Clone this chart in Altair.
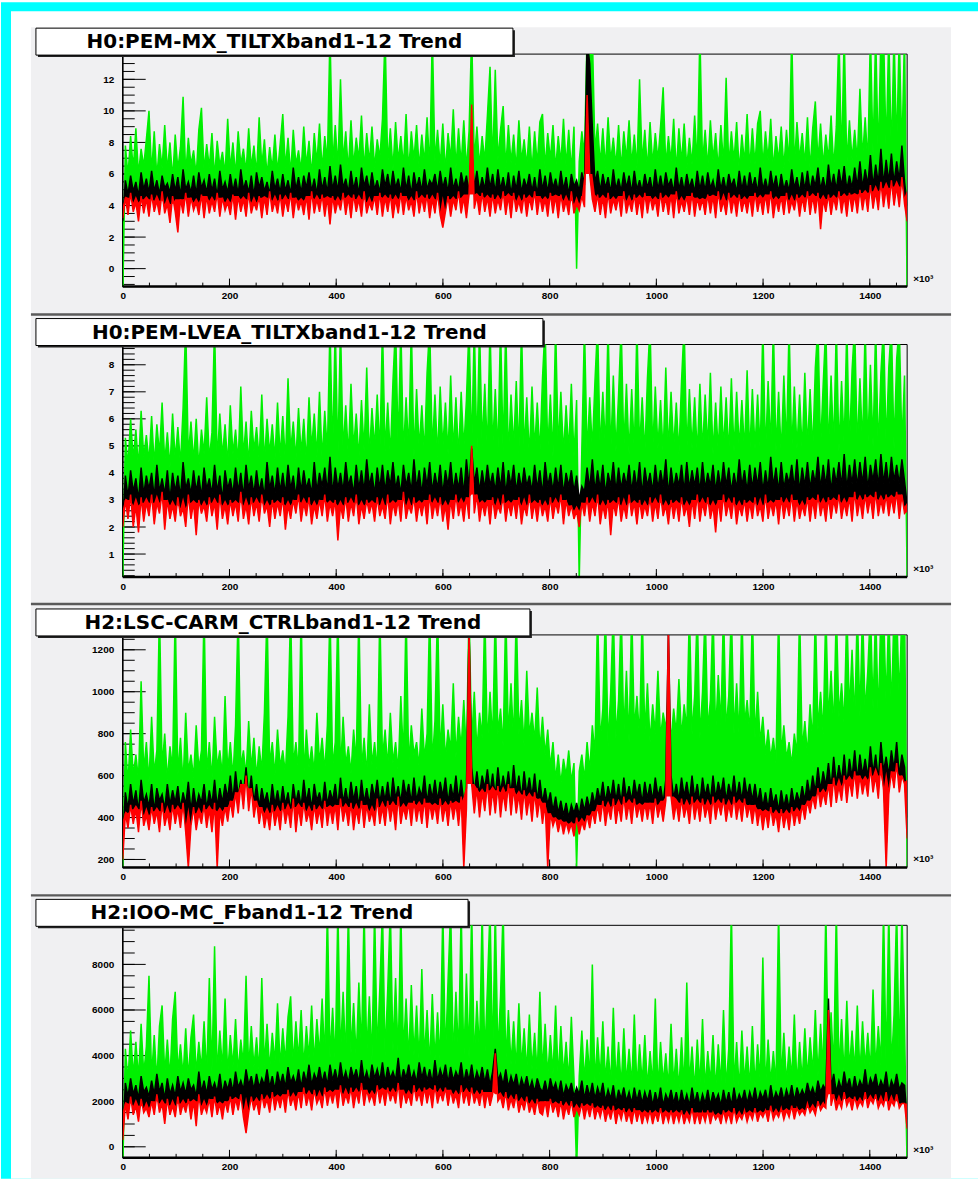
import altair as alt
import pandas as pd
import numpy as np

# ---------------- data ----------------
TITLES = [
    "H0:PEM-MX_TILTXband1-12 Trend",
    "H0:PEM-LVEA_TILTXband1-12 Trend",
    "H2:LSC-CARM_CTRLband1-12 Trend",
    "H2:IOO-MC_Fband1-12 Trend",
]
X_LABELS = [0, 200, 400, 600, 800, 1000, 1200, 1400]
X_MAX = 1470
X_UNIT = "×10³"

Y_DOMAINS = [[-1.14, 13.6], [0.15, 8.75], [162, 1271], [-484, 9714]]
Y_LABELS = [
    [0, 2, 4, 6, 8, 10, 12],
    [1, 2, 3, 4, 5, 6, 7, 8],
    [200, 400, 600, 800, 1000, 1200],
    [0, 2000, 4000, 6000, 8000],
]
Y_MINOR_STEP = [0.5, 0.2, 50, 500]

P1_GREEN = [
    -2, 7.8, 5.9, 8.4, 6.3, 8.9, 6.0, 7.6, 6.5, 8.2, 10.0, 6.1, 8.7, 5.8, 7.9, 6.4, 9.1, 6.2, 8.0, 5.7,
    8.5, 6.3, 7.7, 10.9, 6.0, 8.3, 6.6, 7.5, 5.9, 8.8, 10.2, 6.2, 7.9, 6.4, 8.6, 5.8, 8.1, 6.5, 7.4, 6.0,
    9.5, 6.3, 8.0, 5.9, 8.7, 6.6, 7.6, 6.1, 8.9, 6.4, 7.8, 6.0, 9.6, 6.5, 8.2, 5.9, 7.7, 6.3, 8.5, 6.1,
    7.9, 9.8, 6.4, 8.3, 6.0, 8.8, 6.6, 7.5, 6.2, 9.0, 6.5, 8.1, 5.9, 8.6, 6.7, 9.2, 6.3, 8.4, 6.8, 15,
    6.6, 9.1, 6.4, 12.0, 6.8, 8.7, 6.2, 9.4, 6.5, 8.3, 6.9, 9.7, 6.3, 8.6, 6.7, 9.0, 6.4, 8.2, 7.0, 9.5,
    15, 6.6, 8.9, 6.3, 9.3, 6.8, 8.4, 6.5, 9.8, 6.2, 8.7, 6.9, 9.1, 6.4, 8.5, 6.7, 9.6, 6.3, 15, 6.8,
    8.8, 6.5, 9.2, 6.2, 8.6, 6.9, 10.1, 6.4, 8.9, 6.6, 9.4, 6.3, 8.7, 15, 6.9, 9.0, 6.5, 8.4, 6.8, 9.7,
    12.8, 6.6, 12.6, 6.9, 8.8, 10.3, 6.4, 9.1, 6.7, 8.5, 6.3, 9.4, 6.8, 8.2, 6.5, 9.0, 6.2, 8.7, 6.6, 9.3,
    9.8, 6.4, 8.6, 6.9, 9.1, 6.3, 8.4, 6.7, 9.5, 6.5, 8.8, 6.2, 9.0, 0.0, 6.8, 8.7, 7.2, 15, 15, 15,
    7.4, 9.2, 6.6, 8.9, 6.4, 9.6, 6.8, 8.3, 6.5, 9.1, 6.3, 8.7, 6.9, 9.4, 6.6, 8.5, 6.4, 12.0, 6.7, 8.8,
    6.3, 9.3, 6.6, 8.6, 6.9, 9.0, 11.5, 6.5, 8.4, 6.8, 9.5, 6.2, 8.9, 6.7, 9.2, 6.4, 8.3, 6.6, 9.7, 6.5,
    15, 6.7, 8.8, 6.4, 9.4, 6.9, 8.6, 6.3, 9.1, 6.6, 12.1, 6.5, 8.7, 6.8, 9.3, 6.2, 8.5, 6.7, 9.8, 6.4,
    8.9, 6.6, 9.2, 10.0, 6.5, 8.7, 6.9, 9.5, 6.3, 8.4, 6.8, 9.0, 6.4, 8.8, 6.7, 15, 6.5, 9.3, 6.9, 8.6,
    6.6, 9.6, 6.3, 8.9, 10.6, 6.8, 9.2, 6.5, 8.5, 6.9, 9.7, 6.4, 9.0, 15, 6.7, 15, 6.6, 9.4, 6.9, 8.8,
    6.8, 11.4, 7.0, 9.6, 6.7, 15, 7.2, 15, 6.9, 15, 15, 7.4, 15, 7.1, 15, 7.6, 15, 7.3, 15, -2]
P1_BLACK = [
    3.0, 5.6, 4.7, 5.9, 4.9, 5.5, 4.6, 6.1, 5.0, 5.7, 4.8, 6.2, 4.9, 5.6, 4.7, 5.9, 5.1, 5.4, 4.8, 6.0,
    4.9, 5.8, 4.6, 6.3, 5.0, 5.5, 4.8, 5.9, 4.7, 6.1, 5.1, 5.6, 4.8, 6.0, 4.9, 5.7, 4.6, 6.2, 5.0, 5.5,
    4.8, 6.0, 4.9, 5.7, 4.7, 6.3, 5.0, 5.6, 4.8, 5.9, 4.6, 6.1, 5.1, 5.8, 4.9, 5.5, 4.7, 6.2, 5.0, 5.7,
    4.8, 6.0, 4.9, 5.6, 4.7, 6.4, 5.0, 5.8, 4.8, 5.9, 5.1, 6.1, 4.9, 5.7, 4.7, 6.3, 5.0, 5.8, 4.8, 6.5,
    5.0, 5.9, 4.9, 6.6, 5.1, 5.7, 4.8, 6.2, 5.0, 5.8, 4.7, 6.4, 5.2, 5.9, 4.9, 6.1, 5.0, 5.6, 4.8, 6.3,
    5.2, 6.0, 4.9, 6.2, 5.1, 5.7, 4.8, 6.4, 5.0, 5.9, 4.7, 6.1, 5.1, 5.8, 4.9, 6.3, 5.0, 5.6, 5.3, 6.0,
    4.9, 6.2, 5.1, 5.8, 4.8, 6.4, 5.0, 5.7, 4.9, 6.1, 5.2, 5.9, 4.8, 7.6, 5.1, 6.2, 4.9, 5.8, 5.0, 6.4,
    5.1, 6.0, 4.8, 6.3, 5.0, 5.8, 4.9, 6.1, 4.7, 5.9, 5.0, 6.2, 4.8, 5.7, 5.1, 6.0, 4.9, 5.8, 4.7, 6.3,
    5.0, 5.9, 4.8, 6.1, 5.1, 5.7, 4.9, 6.2, 5.0, 5.8, 4.7, 6.0, 5.2, 5.6, 4.9, 6.1, 5.3, 14.5, 13.0, 9.0,
    5.4, 6.2, 4.9, 6.0, 5.1, 5.8, 4.8, 6.3, 5.0, 5.7, 4.9, 6.1, 5.1, 5.9, 4.8, 6.2, 5.0, 5.6, 4.9, 6.0,
    5.1, 5.8, 4.8, 6.3, 5.0, 5.9, 4.9, 6.1, 5.2, 5.7, 4.8, 6.4, 5.0, 5.8, 4.9, 6.0, 5.1, 5.7, 4.8, 6.2,
    5.0, 5.9, 4.9, 6.1, 5.1, 5.6, 4.8, 6.3, 5.0, 5.8, 4.9, 6.0, 5.2, 5.7, 4.8, 6.2, 5.0, 5.9, 4.9, 6.1,
    5.1, 5.8, 4.8, 6.4, 5.0, 5.7, 4.9, 6.2, 5.1, 5.9, 4.8, 6.0, 5.0, 5.6, 4.9, 6.3, 5.1, 5.8, 4.8, 6.1,
    5.0, 6.2, 4.9, 5.9, 5.2, 6.4, 5.0, 5.8, 4.9, 6.6, 5.1, 6.0, 5.0, 6.3, 5.2, 6.5, 5.0, 5.9, 5.1, 6.4,
    5.2, 6.8, 5.1, 6.3, 5.3, 7.2, 5.2, 6.6, 5.4, 7.6, 5.3, 6.9, 5.5, 7.3, 5.4, 6.8, 5.6, 7.8, 5.5, 4.0]
P1_RED = [
    3.2, 4.5, 3.4, 4.8, 3.6, 4.2, 3.0, 4.6, 3.5, 4.4, 3.3, 4.7, 3.6, 4.3, 3.4, 4.9, 3.5, 4.1, 2.9, 4.6,
    3.6, 2.3, 4.4, 3.5, 4.8, 3.3, 4.5, 3.7, 4.2, 3.4, 4.7, 3.2, 4.6, 3.5, 4.3, 3.6, 4.8, 3.3, 4.5, 3.7,
    4.2, 3.4, 4.7, 3.1, 4.6, 3.6, 4.4, 3.3, 4.8, 3.5, 4.2, 3.7, 4.6, 3.2, 4.5, 3.4, 4.9, 3.6, 4.3, 3.5,
    4.7, 3.3, 4.4, 3.6, 4.8, 3.2, 4.5, 3.7, 4.3, 3.4, 4.6, 3.1, 4.9, 3.5, 4.4, 3.6, 4.7, 3.3, 4.5, 2.8,
    4.6, 3.5, 4.3, 3.7, 4.8, 3.4, 4.5, 3.2, 4.7, 3.6, 4.4, 3.3, 4.9, 3.5, 4.2, 3.7, 4.6, 3.4, 4.8, 3.3,
    4.5, 3.6, 4.7, 3.2, 4.4, 3.5, 4.8, 3.4, 4.6, 3.7, 4.3, 3.3, 4.9, 3.5, 4.5, 3.6, 4.7, 3.2, 4.4, 3.5,
    4.8, 3.4, 2.6, 3.6, 4.6, 3.3, 4.4, 3.7, 4.9, 3.5, 4.5, 3.2, 4.7, 10.4, 3.8, 4.6, 3.4, 4.8, 3.6, 4.5,
    3.3, 4.7, 3.5, 4.4, 3.7, 4.9, 3.4, 4.6, 3.2, 4.8, 3.6, 4.3, 3.5, 4.7, 3.3, 4.5, 3.7, 4.9, 3.4, 4.6,
    3.6, 4.4, 3.3, 4.8, 3.5, 4.6, 3.2, 4.7, 3.6, 4.3, 3.4, 4.9, 3.5, 4.1, 3.7, 4.6, 3.9, 11.0, 6.0, 4.4,
    3.6, 4.7, 3.4, 4.5, 3.2, 4.8, 3.5, 4.4, 3.7, 4.6, 3.3, 4.9, 3.5, 4.3, 3.6, 4.7, 3.4, 4.5, 3.2, 4.8,
    3.5, 4.6, 3.7, 4.4, 3.3, 4.8, 3.6, 4.5, 3.4, 4.7, 3.2, 4.9, 3.5, 4.3, 3.6, 4.6, 3.4, 4.8, 3.3, 4.5,
    3.7, 4.4, 3.4, 4.7, 3.5, 4.6, 3.2, 4.9, 3.6, 4.3, 3.4, 4.8, 3.5, 4.5, 3.3, 4.7, 3.6, 4.4, 3.5, 4.6,
    3.3, 4.8, 3.6, 4.5, 3.4, 4.7, 3.5, 4.9, 3.2, 4.4, 3.6, 4.6, 3.4, 4.8, 3.5, 4.3, 3.7, 4.7, 3.3, 4.5,
    3.6, 4.9, 3.4, 4.6, 3.5, 4.8, 2.5, 4.4, 3.6, 4.7, 3.4, 4.5, 3.7, 4.9, 3.5, 4.6, 3.3, 4.8, 3.6, 4.7,
    3.5, 5.0, 3.7, 4.8, 3.6, 5.3, 3.8, 4.9, 3.7, 5.5, 3.9, 5.1, 3.8, 5.6, 4.0, 5.2, 3.9, 5.8, 4.1, 3.0]

P2_GREEN = [
    0.0, 5.3, 4.3, 6.0, 4.5, 5.6, 4.2, 6.3, 4.6, 5.4, 4.4, 6.1, 4.3, 5.8, 4.7, 6.6, 4.4, 5.5, 4.2, 6.2,
    4.5, 5.7, 4.3, 6.4, 9.5, 4.6, 5.9, 4.4, 6.0, 4.2, 5.6, 4.7, 6.8, 4.5, 5.5, 9.5, 4.4, 6.2, 4.6, 5.8,
    4.3, 6.5, 4.7, 5.6, 4.4, 7.2, 4.6, 5.9, 4.3, 6.3, 4.8, 5.7, 4.5, 6.9, 4.4, 6.0, 4.7, 5.8, 4.5, 6.6,
    4.6, 6.1, 4.4, 7.5, 4.8, 5.9, 4.5, 6.4, 4.7, 6.0, 4.4, 6.8, 4.9, 6.2, 4.6, 7.0, 4.5, 6.3, 4.8, 9.5,
    4.7, 9.5, 4.5, 9.5, 4.8, 6.5, 4.6, 7.3, 4.9, 6.2, 4.5, 6.7, 4.8, 7.9, 4.6, 6.4, 4.9, 6.9, 4.7, 9.5,
    4.8, 6.6, 4.6, 7.4, 9.5, 4.9, 9.5, 4.7, 6.8, 4.8, 9.5, 4.6, 7.1, 4.9, 6.5, 4.7, 7.7, 9.5, 4.8, 6.9,
    4.6, 7.2, 4.9, 6.6, 4.7, 7.6, 4.8, 6.8, 4.6, 7.0, 4.9, 6.7, 9.5, 4.8, 9.5, 4.7, 9.5, 5.0, 7.3, 4.8,
    9.5, 4.9, 7.1, 4.7, 9.5, 4.8, 9.5, 4.6, 6.9, 4.9, 7.4, 4.7, 9.5, 4.8, 6.8, 4.6, 7.2, 4.9, 6.6, 4.7,
    7.5, 9.5, 4.8, 6.9, 4.6, 9.5, 4.9, 7.0, 4.7, 6.5, 4.8, 7.3, 4.6, 6.7, 0.0, 4.9, 9.5, 4.7, 6.8, 4.9,
    7.4, 9.5, 4.8, 7.0, 4.9, 9.5, 4.7, 7.6, 4.8, 6.9, 9.5, 4.9, 7.3, 4.7, 7.1, 4.8, 9.5, 4.9, 6.8, 4.7,
    7.5, 9.5, 4.8, 7.2, 4.9, 6.7, 4.7, 7.9, 4.8, 7.0, 4.9, 6.6, 4.7, 7.4, 9.5, 4.8, 7.1, 4.9, 6.8, 4.7,
    7.3, 4.8, 6.9, 4.9, 7.7, 4.7, 6.6, 4.8, 7.2, 4.9, 6.8, 4.7, 7.5, 4.8, 7.0, 4.9, 6.7, 4.8, 7.8, 4.7,
    7.1, 4.9, 6.9, 4.8, 9.5, 4.7, 7.4, 4.9, 9.5, 4.8, 7.0, 4.7, 7.6, 4.9, 9.5, 4.8, 7.2, 4.9, 6.9, 4.8,
    7.7, 4.9, 7.1, 4.8, 7.9, 9.5, 4.9, 7.3, 9.5, 4.8, 7.6, 4.9, 9.5, 4.8, 7.4, 5.0, 9.5, 4.9, 7.8, 9.5,
    4.9, 7.5, 5.0, 9.5, 4.9, 8.0, 5.0, 9.5, 4.8, 7.7, 9.5, 5.0, 7.9, 9.5, 4.9, 8.2, 9.5, 5.0, 7.6, 0.0]
P2_BLACK = [
    2.2, 3.9, 3.1, 4.1, 3.3, 3.8, 3.0, 4.2, 3.2, 3.9, 3.4, 4.0, 3.1, 4.3, 3.3, 3.8, 3.2, 4.1, 3.0, 4.0,
    3.3, 3.9, 3.1, 4.4, 3.4, 3.8, 3.2, 4.1, 3.3, 3.9, 3.1, 4.2, 3.4, 3.8, 3.2, 4.3, 3.3, 3.9, 3.0, 4.1,
    3.4, 3.8, 3.2, 4.2, 3.3, 4.0, 3.1, 4.3, 3.4, 3.9, 3.2, 4.1, 3.3, 3.8, 3.1, 4.4, 3.4, 3.9, 3.2, 4.2,
    3.3, 4.0, 3.2, 4.3, 3.4, 3.9, 3.1, 4.2, 3.3, 4.1, 3.4, 3.8, 3.2, 4.4, 3.3, 4.0, 3.5, 4.2, 3.3, 4.6,
    3.2, 4.2, 3.4, 4.0, 3.3, 4.4, 3.5, 3.9, 3.2, 4.3, 3.4, 4.1, 3.3, 4.5, 3.5, 4.0, 3.2, 4.2, 3.4, 4.3,
    3.3, 4.1, 3.5, 4.4, 3.4, 3.9, 3.2, 4.3, 3.5, 4.0, 3.3, 4.5, 3.4, 4.1, 3.2, 4.2, 3.5, 4.4, 3.3, 4.0,
    3.4, 4.3, 3.2, 4.1, 3.5, 4.4, 3.3, 4.0, 3.4, 4.2, 3.2, 4.5, 3.5, 4.9, 3.6, 4.2, 3.3, 4.1, 3.4, 4.3,
    3.5, 4.0, 3.3, 4.2, 3.4, 4.4, 3.2, 4.1, 3.5, 4.3, 3.3, 4.0, 3.4, 4.2, 3.5, 3.9, 3.3, 4.3, 3.4, 4.1,
    3.2, 4.4, 3.5, 4.0, 3.3, 4.2, 3.4, 4.3, 3.2, 4.0, 3.5, 4.1, 3.3, 3.9, 3.0, 3.5, 3.3, 4.2, 3.4, 4.5,
    3.3, 4.1, 3.4, 4.3, 3.2, 4.0, 3.5, 4.4, 3.3, 4.2, 3.4, 4.0, 3.5, 4.3, 3.3, 4.1, 3.4, 4.4, 3.2, 4.2,
    3.5, 4.0, 3.3, 4.3, 3.4, 4.1, 3.5, 4.5, 3.2, 4.2, 3.4, 4.0, 3.5, 4.3, 3.3, 4.4, 3.4, 4.1, 3.5, 4.2,
    3.3, 4.4, 3.4, 4.0, 3.5, 4.3, 3.3, 4.1, 3.4, 4.4, 3.5, 4.2, 3.3, 4.0, 3.4, 4.5, 3.5, 4.1, 3.3, 4.3,
    3.4, 4.2, 3.5, 4.4, 3.3, 4.1, 3.4, 4.6, 3.5, 4.2, 3.3, 4.4, 3.4, 4.0, 3.6, 4.3, 3.4, 4.5, 3.3, 4.2,
    3.5, 4.4, 3.4, 4.1, 3.6, 4.6, 3.4, 4.3, 3.5, 4.5, 3.3, 4.2, 3.6, 4.4, 3.5, 4.7, 3.4, 4.3, 3.6, 4.5,
    3.5, 4.4, 3.6, 4.6, 3.4, 4.3, 3.7, 4.5, 3.5, 4.7, 3.6, 4.4, 3.5, 4.6, 3.7, 4.3, 3.6, 4.5, 3.7, 2.8]
P2_RED = [
    2.0, 3.0, 2.3, 3.2, 2.0, 2.8, 1.8, 3.1, 2.2, 2.9, 2.4, 3.2, 2.1, 2.9, 2.5, 3.3, 1.9, 3.0, 2.3, 2.8,
    2.2, 3.1, 2.4, 2.7, 2.0, 3.2, 2.3, 2.9, 1.7, 3.0, 2.5, 2.8, 2.2, 3.1, 2.4, 2.9, 1.9, 3.2, 2.3, 2.8,
    2.1, 3.0, 2.4, 2.9, 2.2, 3.3, 2.3, 2.8, 2.1, 3.1, 2.4, 2.9, 2.2, 3.2, 2.5, 2.8, 2.0, 3.0, 2.3, 2.9,
    2.4, 3.1, 1.9, 2.8, 2.3, 3.0, 2.5, 3.2, 2.2, 2.9, 2.4, 3.1, 2.1, 2.8, 2.3, 3.0, 2.4, 3.2, 2.2, 2.9,
    2.4, 3.0, 1.5, 2.8, 2.3, 3.1, 2.2, 2.9, 2.4, 3.2, 2.1, 2.8, 2.3, 3.0, 2.5, 2.9, 2.2, 3.1, 2.4, 2.8,
    2.3, 3.2, 2.1, 2.9, 2.4, 3.0, 2.2, 3.3, 2.3, 2.8, 2.5, 3.1, 2.2, 2.9, 2.4, 3.0, 2.1, 3.2, 2.3, 2.9,
    2.4, 3.1, 2.2, 2.8, 1.9, 3.0, 2.3, 3.2, 2.4, 2.9, 2.2, 3.1, 2.3, 5.0, 2.5, 3.2, 2.2, 2.9, 2.4, 3.0,
    2.1, 3.1, 2.3, 2.8, 2.5, 3.2, 2.2, 2.9, 2.4, 3.0, 2.3, 3.1, 2.1, 2.8, 2.4, 3.2, 2.3, 2.9, 2.2, 3.0,
    2.4, 2.8, 2.2, 3.1, 2.3, 2.9, 2.5, 3.2, 2.1, 3.0, 2.4, 2.8, 2.3, 2.6, 2.0, 2.9, 2.4, 3.1, 2.2, 2.9,
    2.4, 3.2, 2.1, 2.8, 2.3, 3.0, 1.7, 2.9, 2.4, 3.1, 2.2, 2.8, 2.3, 3.2, 2.4, 2.9, 2.1, 3.0, 2.3, 2.8,
    2.4, 3.1, 2.2, 2.9, 2.3, 3.2, 2.4, 2.8, 2.1, 3.0, 2.3, 2.9, 2.2, 3.1, 2.4, 2.8, 2.0, 3.0, 2.3, 3.2,
    2.2, 2.9, 2.4, 3.1, 2.3, 2.8, 1.8, 3.0, 2.2, 3.2, 2.4, 2.9, 2.3, 3.1, 2.1, 2.8, 2.4, 3.0, 2.2, 2.9,
    2.3, 3.1, 2.4, 2.8, 2.2, 3.2, 2.3, 2.9, 2.4, 3.0, 2.1, 3.1, 2.3, 2.9, 2.4, 3.2, 2.2, 3.0, 2.3, 2.8,
    2.4, 3.1, 2.2, 3.0, 2.3, 3.2, 2.4, 2.9, 2.2, 3.1, 2.3, 3.0, 2.5, 3.2, 2.3, 2.9, 2.4, 3.1, 2.2, 3.3,
    2.4, 3.0, 2.3, 3.2, 2.5, 3.1, 2.3, 3.3, 2.4, 3.0, 2.5, 3.2, 2.4, 3.1, 2.5, 3.3, 2.3, 3.2, 2.5, 2.6]

P3_GREEN = [
    160, 760, 560, 820, 600, 700, 580, 1050, 620, 760, 570, 880, 610, 720, 1400, 640, 800, 580, 740, 630,
    1400, 600, 780, 560, 900, 620, 700, 590, 840, 630, 720, 1400, 610, 760, 580, 880, 640, 720, 600, 980,
    620, 760, 590, 840, 1400, 640, 720, 600, 860, 630, 780, 590, 740, 620, 900, 1400, 650, 760, 600, 820,
    640, 720, 610, 880, 1400, 650, 760, 620, 1400, 600, 820, 640, 740, 610, 900, 660, 780, 620, 840, 1400,
    640, 760, 1400, 620, 880, 650, 740, 610, 820, 660, 1400, 630, 780, 600, 940, 650, 760, 620, 1400, 680,
    820, 640, 900, 660, 760, 620, 980, 680, 1400, 650, 840, 700, 760, 640, 920, 680, 800, 1400, 660, 860,
    1400, 700, 940, 680, 820, 720, 1040, 690, 880, 730, 960, 700, 1400, 760, 1000, 720, 900, 780, 1400, 740,
    1000, 760, 1400, 800, 920, 740, 1400, 780, 1040, 760, 1400, 800, 960, 740, 1100, 790, 900, 760, 1020, 720,
    880, 700, 820, 640, 760, 580, 700, 560, 680, 600, 720, 570, 660, 160, 620, 700, 580, 760, 620, 840,
    700, 1400, 760, 920, 1400, 740, 1000, 1400, 780, 960, 1400, 800, 1100, 760, 1400, 820, 980, 780, 1400, 800,
    1040, 760, 940, 800, 1100, 780, 900, 820, 1000, 760, 920, 800, 1060, 780, 940, 820, 1400, 800, 980, 1400,
    780, 1000, 1400, 820, 960, 1400, 800, 1080, 840, 1400, 820, 980, 1400, 800, 1040, 780, 1400, 840, 960, 800,
    1400, 780, 1000, 760, 880, 700, 820, 680, 780, 660, 1400, 700, 840, 680, 760, 650, 800, 700, 1400, 720,
    860, 700, 940, 760, 1400, 820, 1000, 800, 1400, 860, 1100, 820, 1400, 880, 1040, 840, 1400, 900, 1200, 860,
    1400, 880, 1400, 900, 1100, 1400, 920, 1400, 860, 1400, 1400, 940, 1400, 900, 1400, 1400, 960, 1400, 1400, 160]
P3_BLACK = [
    300, 520, 440, 560, 460, 530, 430, 580, 470, 510, 450, 560, 430, 540, 480, 510, 440, 560, 460, 530,
    470, 550, 440, 520, 460, 570, 430, 540, 450, 510, 470, 560, 440, 530, 460, 580, 450, 540, 470, 560,
    490, 600, 480, 620, 500, 580, 510, 640, 490, 600, 470, 560, 450, 540, 470, 520, 440, 560, 460, 530,
    450, 550, 460, 520, 430, 560, 470, 530, 450, 580, 470, 540, 440, 560, 480, 520, 450, 570, 460, 530,
    480, 560, 450, 590, 470, 540, 460, 570, 480, 550, 450, 580, 470, 540, 460, 560, 490, 580, 470, 550,
    480, 570, 460, 590, 490, 550, 470, 580, 500, 560, 470, 590, 480, 540, 500, 600, 470, 560, 490, 580,
    480, 570, 500, 590, 470, 560, 490, 600, 480, 580, 470, 540, 1300, 640, 520, 620, 510, 600, 540, 630,
    520, 610, 500, 640, 520, 600, 530, 620, 510, 650, 520, 600, 490, 620, 510, 590, 500, 610, 480, 580,
    470, 540, 460, 520, 430, 500, 420, 480, 410, 470, 400, 460, 420, 470, 410, 490, 430, 500, 440, 520,
    460, 540, 480, 570, 470, 550, 490, 580, 480, 560, 470, 590, 490, 550, 480, 580, 500, 560, 470, 570,
    490, 560, 480, 590, 500, 550, 470, 580, 1300, 600, 490, 560, 480, 590, 500, 570, 480, 600, 490, 560,
    470, 590, 500, 560, 480, 600, 490, 570, 510, 590, 480, 560, 500, 600, 490, 570, 480, 590, 500, 560,
    480, 560, 470, 540, 450, 520, 440, 540, 460, 510, 430, 530, 450, 510, 440, 540, 460, 520, 470, 550,
    480, 580, 500, 600, 520, 640, 530, 620, 550, 660, 540, 690, 560, 650, 570, 700, 560, 680, 590, 720,
    580, 700, 600, 680, 590, 740, 610, 700, 580, 760, 620, 690, 600, 720, 630, 760, 600, 700, 640, 400]
P3_RED = [
    200, 420, 350, 460, 370, 440, 330, 480, 360, 410, 340, 450, 370, 430, 330, 470, 360, 420, 340, 460,
    370, 440, 350, 470, 330, 160, 360, 450, 340, 420, 370, 460, 350, 440, 330, 470, 160, 430, 360, 450,
    380, 480, 400, 520, 420, 560, 440, 600, 430, 540, 400, 480, 370, 450, 350, 420, 340, 460, 360, 430,
    340, 470, 370, 440, 350, 490, 330, 450, 360, 470, 380, 430, 340, 460, 370, 440, 350, 480, 360, 450,
    370, 460, 340, 490, 380, 450, 360, 470, 340, 440, 370, 480, 350, 460, 380, 430, 360, 490, 370, 450,
    360, 480, 380, 460, 340, 500, 370, 450, 390, 470, 360, 480, 380, 460, 370, 490, 350, 470, 390, 460,
    370, 490, 380, 460, 360, 480, 390, 470, 360, 500, 160, 440, 1300, 560, 420, 540, 400, 520, 430, 560,
    410, 530, 420, 550, 400, 520, 430, 560, 410, 540, 420, 510, 390, 530, 410, 500, 380, 520, 400, 490,
    370, 470, 160, 420, 360, 400, 330, 390, 320, 380, 330, 370, 310, 400, 320, 380, 340, 410, 350, 430,
    370, 460, 380, 480, 360, 450, 390, 490, 370, 460, 380, 500, 390, 470, 370, 490, 400, 460, 380, 470,
    390, 470, 370, 490, 400, 460, 380, 480, 1300, 500, 390, 470, 380, 490, 400, 460, 370, 500, 390, 470,
    380, 490, 400, 460, 370, 500, 390, 470, 410, 490, 380, 460, 400, 500, 390, 470, 380, 490, 400, 460,
    370, 460, 360, 440, 340, 430, 350, 450, 360, 420, 330, 440, 350, 420, 340, 450, 360, 430, 370, 460,
    390, 480, 420, 500, 440, 540, 450, 520, 460, 560, 450, 590, 470, 550, 480, 600, 470, 580, 500, 620,
    490, 600, 510, 580, 500, 640, 520, 600, 490, 660, 530, 160, 510, 620, 540, 660, 520, 600, 560, 300]

P4_GREEN = [
    -1000, 4300, 2900, 5100, 3100, 4600, 3000, 5400, 3200, 4400, 7500, 3100, 4900, 2900, 5300, 6200, 3200, 4700, 3000, 5600,
    6800, 3300, 4500, 3100, 5200, 3000, 4800, 5800, 3200, 4600, 3400, 5500, 3100, 7400, 3300, 8800, 3200, 5100, 3400, 6500,
    3200, 4900, 3500, 5600, 3300, 4700, 3600, 7500, 3400, 5300, 3500, 4800, 3300, 7400, 3600, 5400, 3400, 5000, 3700, 6300,
    3500, 5200, 3700, 5700, 6600, 3600, 5500, 3800, 6000, 3500, 5300, 3900, 6200, 3700, 5600, 4000, 6500, 3800, 10500, 3900,
    6100, 3700, 10500, 4000, 6800, 3800, 10500, 4100, 6300, 3900, 7200, 4200, 10500, 4000, 6600, 3800, 10500, 4100, 7000, 10500,
    4000, 6900, 10500, 4200, 7400, 3900, 10500, 4100, 6500, 3800, 7100, 4000, 6200, 3700, 7800, 3900, 6000, 3600, 6700, 3800,
    5900, 3700, 10500, 3900, 7300, 10500, 3800, 6800, 4000, 10500, 3700, 7600, 3900, 10500, 3800, 6400, 4100, 10500, 3900, 7000,
    10500, 3800, 10500, 4000, 6600, 10500, 3700, 6000, 3600, 5500, 3400, 6300, 3500, 5200, 3300, 5800, 3400, 5000, 3200, 6800,
    3300, 5400, 3100, 4900, 3200, 6200, 3000, 5300, 3100, 4600, 2900, 5700, 3000, -1000, 3100, 5100, 2900, 4700, 3000, 8000,
    2800, 4800, 3000, 5500, 2900, 4400, 2700, 6100, 2800, 4600, 2600, 5200, 2800, 4300, 2700, 5800, 2600, 4500, 2800, 4900,
    2600, 4200, 2700, 6500, 2500, 4600, 2800, 4100, 2600, 5400, 2700, 4300, 2500, 4800, 2600, 7200, 2800, 4400, 2500, 4700,
    2700, 5600, 2600, 4200, 2800, 4900, 2500, 4500, 2700, 6000, 2600, 4300, 10500, 2700, 4600, 2500, 5100, 2800, 4400, 2600,
    5300, 2700, 4500, 2900, 8300, 2600, 4700, 2800, 4200, 2700, 10500, 2900, 5000, 2800, 4400, 3000, 5800, 2700, 4600, 2900,
    5200, 3000, 4800, 3200, 6000, 3100, 5400, 3300, 10500, 3200, 5900, 3400, 10500, 3300, 5600, 3100, 6400, 3400, 5100, 3300,
    6200, 3200, 5500, 3500, 5000, 3300, 6900, 3400, 5300, 3600, 10500, 3400, 10500, 3500, 5800, 10500, 3600, 10500, 5200, -1000]
P4_BLACK = [
    500, 2800, 2200, 3000, 2300, 2700, 2100, 3100, 2400, 2600, 2200, 2900, 2300, 3200, 2400, 2800, 2100, 3000, 2300, 2700,
    2200, 3100, 2400, 2800, 2300, 3000, 2500, 2700, 2200, 3300, 2400, 2900, 2300, 3100, 2500, 2800, 2400, 3200, 2300, 2900,
    2500, 3000, 2400, 3300, 2600, 2900, 2500, 3400, 2700, 3100, 2500, 3200, 2600, 3000, 2700, 3400, 2600, 3100, 2500, 3300,
    2700, 3200, 2600, 3500, 2800, 3100, 2700, 3400, 2600, 3300, 2800, 3600, 2700, 3200, 2900, 3500, 2800, 3300, 2700, 3600,
    2900, 3400, 2800, 3700, 2900, 3300, 2800, 3500, 3000, 3400, 2800, 3800, 2900, 3300, 2800, 3600, 3000, 3400, 2900, 3700,
    2800, 3500, 3000, 3300, 2900, 3900, 2800, 3400, 3000, 3600, 2900, 3300, 2800, 3700, 3000, 3500, 2900, 3400, 2800, 3800,
    2900, 3400, 3000, 3600, 2800, 3500, 2900, 3300, 3000, 3700, 2800, 3400, 2900, 3600, 2800, 3300, 2900, 3500, 2800, 3400,
    2700, 3300, 4300, 2900, 3200, 2700, 3400, 2600, 3100, 2700, 3200, 2500, 3000, 2600, 3100, 2500, 2900, 2400, 3000, 2600,
    2400, 2900, 2300, 3000, 2500, 2800, 2300, 2900, 2200, 2700, 2400, 2800, 2200, 2600, 2300, 2900, 2100, 2700, 2200, 2800,
    2100, 2600, 2200, 2800, 2000, 2500, 2100, 2700, 1900, 2500, 2100, 2600, 2000, 2400, 1900, 2600, 2000, 2500, 1900, 2400,
    2000, 2500, 1800, 2400, 1900, 2600, 1800, 2300, 2000, 2500, 1900, 2400, 1800, 2500, 1900, 2300, 1800, 2600, 1900, 2400,
    1800, 2300, 1900, 2500, 1800, 2400, 2000, 2300, 1800, 2500, 1900, 2400, 1800, 2600, 1900, 2300, 2000, 2500, 1900, 2400,
    2000, 2600, 1900, 2400, 2100, 2500, 1900, 2700, 2000, 2400, 2100, 2600, 2000, 2500, 2100, 2700, 2000, 2600, 2200, 2500,
    2200, 2800, 2300, 2600, 2200, 2900, 2400, 2700, 2500, 6500, 2600, 3200, 2400, 2900, 2500, 3300, 2600, 3000, 2400, 3100,
    2500, 2900, 2600, 3400, 2500, 3000, 2700, 3200, 2500, 2900, 2600, 3300, 2400, 2900, 2600, 3200, 2500, 2800, 2700, 1200]
P4_RED = [
    300, 1900, 1200, 2200, 1400, 1800, 1100, 2100, 1500, 1700, 1300, 2000, 1400, 2300, 1500, 1900, 1000, 2100, 1400, 1800,
    1300, 2200, 1400, 1900, 1500, 2100, 1200, 2000, 900, 2300, 1400, 1800, 1500, 2100, 1300, 2200, 1400, 1900, 1200, 2000,
    1500, 2200, 1400, 2100, 1600, 2300, 1300, 600, 1500, 2200, 1600, 2000, 1400, 2300, 1700, 2100, 1500, 2400, 1600, 2200,
    1700, 2300, 1500, 2500, 1800, 2200, 1600, 2400, 1700, 2600, 1800, 2300, 1600, 2500, 1900, 2200, 1700, 2600, 1800, 2400,
    1900, 2500, 1700, 2700, 1800, 2300, 1900, 2600, 1700, 2400, 1900, 2800, 1800, 2500, 2000, 2300, 1800, 2700, 1900, 2500,
    1800, 2600, 2000, 2400, 1900, 2800, 1700, 2500, 1900, 2300, 1800, 2700, 2000, 2400, 1800, 2600, 1900, 2500, 1700, 2700,
    1900, 2400, 2000, 2600, 1800, 2500, 1900, 2300, 1700, 2700, 1900, 2400, 1800, 2600, 1900, 2300, 1800, 2500, 1700, 2400,
    1800, 2300, 4100, 2000, 2200, 1700, 2400, 1600, 2100, 1700, 2300, 1500, 2000, 1600, 2200, 1500, 1900, 1400, 2100, 1500,
    1400, 2000, 1300, 2100, 1500, 1900, 1300, 2000, 1200, 1800, 1400, 2000, 1300, 1700, 1400, 1900, 1200, 1800, 1300, 1900,
    1200, 1700, 1300, 1800, 1100, 1600, 1200, 1800, 1000, 1600, 1200, 1700, 1100, 1500, 1000, 1700, 1100, 1600, 1000, 1500,
    1100, 1600, 1000, 1500, 1100, 1700, 1000, 1500, 1100, 1600, 1000, 1500, 1100, 1600, 1000, 1400, 1100, 1700, 1000, 1500,
    1000, 1500, 1100, 1600, 1000, 1500, 1200, 1400, 1000, 1600, 1100, 1500, 1000, 1700, 1100, 1400, 1200, 1600, 1100, 1500,
    1200, 1700, 1100, 1500, 1300, 1600, 1100, 1800, 1200, 1500, 1300, 1700, 1200, 1600, 1300, 1800, 1200, 1700, 1400, 1600,
    1400, 1900, 1500, 1700, 1400, 2000, 1600, 1800, 1700, 6000, 1800, 2300, 1600, 2000, 1700, 2400, 1800, 2100, 1600, 2200,
    1700, 2000, 1800, 2400, 1700, 2100, 1900, 2300, 1700, 2000, 1800, 2400, 1600, 2000, 1800, 2300, 1700, 1900, 1900, 800]

SERIES = [
    (P1_GREEN, P1_BLACK, P1_RED),
    (P2_GREEN, P2_BLACK, P2_RED),
    (P3_GREEN, P3_BLACK, P3_RED),
    (P4_GREEN, P4_BLACK, P4_RED),
]

# ---------------- layout / style ----------------
W, H = 786, 233
SPACING = 58
BOX_RIGHT = [391, 421, 408, 346]          # title box right edge (px, relative to plot)
BG_TOP = [-27, -30, -31, -30]
BG_BOTTOM = [261, 260, 261, 254]
GREEN, BLACK, RED = "#00f000", "#000000", "#ff0000"
PANEL_BG = "#f0f0f2"
LABEL_FONT = "Liberation Sans"

one = pd.DataFrame({"a": [0]})


def x_enc(field="x"):
    return alt.X(
        f"{field}:Q",
        scale=alt.Scale(domain=[0, X_MAX], nice=False, zero=False),
        axis=alt.Axis(values=X_LABELS, ticks=False, tickSize=0, domain=False, grid=False,
                      labelFont=LABEL_FONT, labelFontSize=10, labelFontWeight="bold",
                      labelColor="black", labelPadding=4, labelFlush=False, format="d",
                      zindex=2),
        title=None,
    )


def y_enc(k, field="v"):
    return alt.Y(
        f"{field}:Q",
        scale=alt.Scale(domain=Y_DOMAINS[k], nice=False, zero=False),
        axis=alt.Axis(values=Y_LABELS[k], ticks=False, tickSize=0, domain=False, grid=False,
                      labelFont=LABEL_FONT, labelFontSize=10, labelFontWeight="bold",
                      labelColor="black", labelPadding=9, format="d", zindex=2),
        title=None,
    )


def pair_frame(top, bottom):
    n = min(len(top), len(bottom))
    xs = np.linspace(0, X_MAX, len(top))[:n]
    return pd.DataFrame({"x": xs, "v": top[:n], "v2": bottom[:n]})


def series_frame(vals):
    return pd.DataFrame({"x": np.linspace(0, X_MAX, len(vals)), "v": vals})


def panel(k):
    xenc = x_enc()
    yenc = y_enc(k)

    layers = []
    if k == 0:
        # page frame: cyan border (top/left) and white sheet
        layers.append(alt.Chart(one).mark_rect(color="#00ffff").encode(
            x=alt.value(-122), x2=alt.value(857), y=alt.value(-52), y2=alt.value(1127)))
        layers.append(alt.Chart(one).mark_rect(color="white").encode(
            x=alt.value(-112), x2=alt.value(857), y=alt.value(-43), y2=alt.value(1127)))

    # panel background
    layers.append(alt.Chart(one).mark_rect(color=PANEL_BG).encode(
        x=alt.value(-92), x2=alt.value(830), y=alt.value(BG_TOP[k]), y2=alt.value(BG_BOTTOM[k])))
    if k > 0:
        layers.append(alt.Chart(one).mark_rule(color="#5a5a5a", strokeWidth=2.5).encode(
            x=alt.value(-92), x2=alt.value(830), y=alt.value(BG_TOP[k])))

    # inner ticks (ROOT style)
    lo, hi = Y_DOMAINS[k]
    step = Y_MINOR_STEP[k]
    start = np.ceil(lo / step) * step
    minor_y = [float(v) for v in np.arange(start, hi, step) if lo <= v <= hi]
    layers.append(alt.Chart(pd.DataFrame({"v": minor_y})).mark_rule(color="black", strokeWidth=1).encode(
        y=yenc, x=alt.value(0), x2=alt.value(12)))
    layers.append(alt.Chart(pd.DataFrame({"v": Y_LABELS[k]})).mark_rule(color="black", strokeWidth=1).encode(
        y=yenc, x=alt.value(0), x2=alt.value(23)))
    minor_x = list(range(0, X_MAX + 1, 50))
    layers.append(alt.Chart(pd.DataFrame({"x": minor_x})).mark_rule(color="black", strokeWidth=1).encode(
        x=xenc, y=alt.value(H), y2=alt.value(H - 4)))
    layers.append(alt.Chart(pd.DataFrame({"x": X_LABELS})).mark_rule(color="black", strokeWidth=1).encode(
        x=xenc, y=alt.value(H), y2=alt.value(H - 8)))

    # frame and left axis
    layers.append(alt.Chart(one).mark_rect(fill="transparent", stroke="black", strokeWidth=1).encode(
        x=alt.value(0), x2=alt.value(W), y=alt.value(0), y2=alt.value(H)))
    layers.append(alt.Chart(one).mark_rule(color="black", strokeWidth=1.5).encode(
        x=alt.value(0), y=alt.value(0), y2=alt.value(H)))

    # data traces: green (max), black (mean), red (min), drawn as dense traces
    g, b, r = SERIES[k]
    # green trace fills down to the black trace beneath it
    layers.append(alt.Chart(pair_frame(g, b)).mark_area(color=GREEN, clip=True).encode(
        x=xenc, y=yenc, y2="v2:Q"))
    layers.append(alt.Chart(series_frame(g)).mark_line(color=GREEN, strokeWidth=1.5, clip=True).encode(
        x=xenc, y=yenc))
    # black trace fills down to the red trace
    layers.append(alt.Chart(pair_frame(b, r)).mark_area(color=BLACK, clip=True).encode(
        x=xenc, y=yenc, y2="v2:Q"))
    layers.append(alt.Chart(series_frame(b)).mark_line(color=BLACK, strokeWidth=1.5, clip=True).encode(
        x=xenc, y=yenc))
    # red trace: band between the trace and its local upper envelope
    layers.append(alt.Chart(series_frame(r)).transform_window(
        hi="q3(v)", frame=[-2, 2], sort=[alt.SortField("x", order="ascending")]
    ).mark_area(color=RED, clip=True).encode(x=xenc, y=yenc, y2="hi:Q"))
    layers.append(alt.Chart(series_frame(r)).mark_line(color=RED, strokeWidth=1.5, clip=True).encode(
        x=xenc, y=yenc))

    # bottom axis line
    layers.append(alt.Chart(one).mark_rule(color="black", strokeWidth=2.5).encode(
        x=alt.value(0), x2=alt.value(W), y=alt.value(H)))
    layers.append(alt.Chart(one).mark_text(align="left", baseline="middle", fontSize=10,
                                           fontWeight="bold", font=LABEL_FONT, color="black").encode(
        x=alt.value(W + 6), y=alt.value(H - 8), text=alt.value(X_UNIT)))

    # title box with shadow
    br = BOX_RIGHT[k]
    layers.append(alt.Chart(one).mark_rect(color="#222222").encode(
        x=alt.value(-85), x2=alt.value(br + 2), y=alt.value(-24), y2=alt.value(3)))
    layers.append(alt.Chart(one).mark_rect(fill="white", stroke="black", strokeWidth=1).encode(
        x=alt.value(-87), x2=alt.value(br), y=alt.value(-26), y2=alt.value(1)))
    layers.append(alt.Chart(one).mark_text(align="center", baseline="middle", fontSize=20,
                                           fontWeight="bold", font="DejaVu Sans", color="black").encode(
        x=alt.value((br - 87) / 2), y=alt.value(-12), text=alt.value(TITLES[k])))

    return alt.layer(*layers).properties(width=W, height=H)


chart = alt.vconcat(*[panel(k) for k in range(4)], spacing=SPACING, bounds="flush").properties(
    padding=0, background="white"
).configure_view(stroke="transparent")

chart.save("out.html", embed_options={"renderer": "svg", "actions": False})
